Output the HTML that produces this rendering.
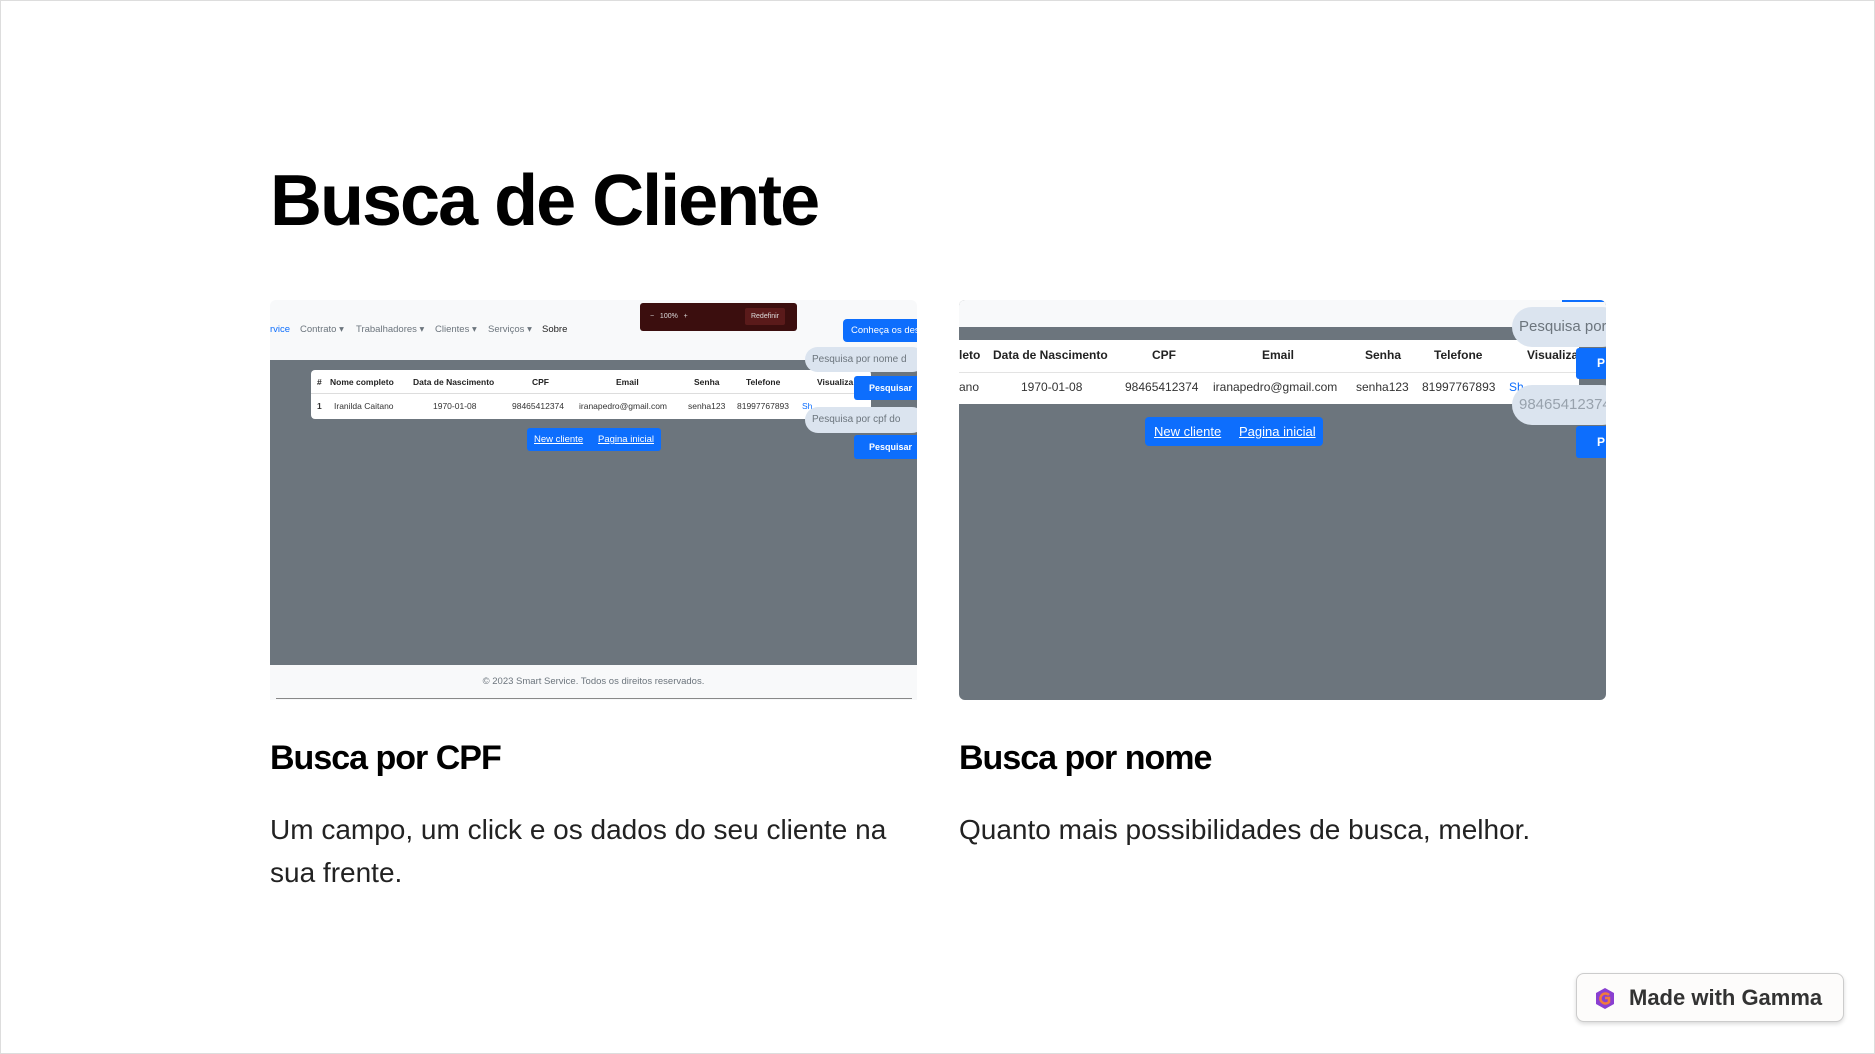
<!DOCTYPE html>
<html><head><meta charset="utf-8"><style>
*{margin:0;padding:0;box-sizing:border-box}
body{width:1875px;height:1054px;background:#fff;position:relative;overflow:hidden;font-family:"Liberation Sans",Arial,sans-serif;color:#000}
.a{position:absolute;white-space:nowrap}
.frame{position:absolute;left:0;top:0;width:1875px;height:1054px;border:1px solid #ddd}
h1{position:absolute;left:270px;top:156px;font-size:72px;font-weight:bold;letter-spacing:-2px;line-height:90px}
.sub{position:absolute;font-size:34px;font-weight:bold;letter-spacing:-1px;line-height:40px}
.body{position:absolute;font-size:28px;line-height:43px;color:#222;width:640px}
.shot{position:absolute;overflow:hidden}
.b{font-weight:bold}
.blue{background:#0d6efd;color:#fff}
.pill{background:#dbe4ef;border-radius:14px;color:#6c757d}
</style></head><body>
<div class="frame"></div>
<h1>Busca de Cliente</h1>

<!-- left screenshot -->
<div class="shot" style="left:270px;top:300px;width:647px;height:400px;background:#f8f9fa;border-radius:6px 6px 0 0">
  <div class="a" style="left:0;top:60px;width:647px;height:305px;background:#6c757d"></div>
  <div class="a" style="left:0;top:365px;width:647px;height:35px;background:#f8f9fa"></div>
  <div class="a" style="left:6px;top:398px;width:636px;height:1px;background:#888"></div>
  <div class="a" style="left:0;top:376px;width:647px;text-align:center;font-size:9.5px;color:#6c757d">© 2023 Smart Service. Todos os direitos reservados.</div>
  <div class="a" style="left:0;top:24px;font-size:9.5px;color:#6c757d">
    <span class="a" style="left:0;color:#0d6efd">rvice</span>
    <span class="a" style="left:30px">Contrato ▾</span>
    <span class="a" style="left:86px">Trabalhadores ▾</span>
    <span class="a" style="left:165px">Clientes ▾</span>
    <span class="a" style="left:218px">Serviços ▾</span>
    <span class="a" style="left:272px;color:#222">Sobre</span>
  </div>
  <div class="a" style="left:370px;top:3px;width:157px;height:28px;background:#3b0e0e;border-radius:3px;font-size:7px;color:#ddd">
    <span class="a" style="left:10px;top:10px">−&nbsp;&nbsp;&nbsp;100%&nbsp;&nbsp;&nbsp;+</span>
    <span class="a" style="left:105px;top:5px;width:40px;height:17px;background:#5a1a1a;border-radius:2px;text-align:center;line-height:17px">Redefinir</span>
  </div>
  <div class="a blue" style="left:573px;top:19px;width:80px;height:23px;border-radius:4px;font-size:9.5px;line-height:23px;padding-left:8px">Conheça os des</div>
  <div class="a" style="left:41px;top:70px;width:560px;height:49px;background:#fff;border-radius:4px"></div>
  <div class="a" style="left:41px;top:93px;width:560px;height:1px;background:#ddd"></div>
  <div class="a b" style="left:0;top:77px;font-size:8.5px;color:#222">
    <span class="a" style="left:47px">#</span><span class="a" style="left:60px">Nome completo</span><span class="a" style="left:143px">Data de Nascimento</span><span class="a" style="left:262px">CPF</span><span class="a" style="left:346px">Email</span><span class="a" style="left:424px">Senha</span><span class="a" style="left:476px">Telefone</span><span class="a" style="left:547px">Visualiza</span>
  </div>
  <div class="a" style="left:0;top:101px;font-size:8.5px;color:#333">
    <span class="a b" style="left:47px">1</span><span class="a" style="left:64px">Iranilda Caitano</span><span class="a" style="left:163px">1970-01-08</span><span class="a" style="left:242px">98465412374</span><span class="a" style="left:309px">iranapedro@gmail.com</span><span class="a" style="left:418px">senha123</span><span class="a" style="left:467px">81997767893</span><span class="a" style="left:532px;color:#0d6efd">Sh</span>
  </div>
  <div class="a pill" style="left:535px;top:47px;width:120px;height:25px;font-size:10px;line-height:25px;padding-left:7px">Pesquisa por nome d</div>
  <div class="a blue b" style="left:584px;top:76px;width:70px;height:24px;border-radius:3px 0 0 3px;font-size:9px;line-height:24px;padding-left:15px">Pesquisar</div>
  <div class="a pill" style="left:535px;top:107px;width:120px;height:26px;font-size:10px;line-height:26px;padding-left:7px">Pesquisa por cpf do</div>
  <div class="a blue b" style="left:584px;top:135px;width:70px;height:24px;border-radius:3px 0 0 3px;font-size:9px;line-height:24px;padding-left:15px">Pesquisar</div>
  <div class="a blue" style="left:257px;top:128px;width:134px;height:23px;border-radius:3px;font-size:9.5px;line-height:23px">
    <span class="a" style="left:7px;text-decoration:underline">New cliente</span><span class="a" style="left:71px;text-decoration:underline">Pagina inicial</span>
  </div>
</div>

<!-- right screenshot -->
<div class="shot" style="left:959px;top:300px;width:647px;height:400px;background:#6c757d;border-radius:6px">
  <div class="a" style="left:0;top:0;width:647px;height:27px;background:#f8f9fa"></div>
  <div class="a" style="left:603px;top:0;width:42px;height:2px;background:#0d6efd"></div>
  <div class="a" style="left:0;top:40px;width:620px;height:64px;background:#fff"></div>
  <div class="a" style="left:0;top:72px;width:620px;height:1px;background:#e3e3e3"></div>
  <div class="a b" style="left:0;top:48px;font-size:12px;color:#222">
    <span class="a" style="left:0">leto</span><span class="a" style="left:34px">Data de Nascimento</span><span class="a" style="left:193px">CPF</span><span class="a" style="left:303px">Email</span><span class="a" style="left:406px">Senha</span><span class="a" style="left:475px">Telefone</span><span class="a" style="left:568px">Visualiza</span>
  </div>
  <div class="a" style="left:0;top:80px;font-size:12px;color:#333">
    <span class="a" style="left:0">ano</span><span class="a" style="left:62px">1970-01-08</span><span class="a" style="left:166px">98465412374</span><span class="a" style="left:254px">iranapedro@gmail.com</span><span class="a" style="left:397px">senha123</span><span class="a" style="left:463px">81997767893</span><span class="a" style="left:550px;color:#0d6efd">Sh</span>
  </div>
  <div class="a pill" style="left:553px;top:7px;width:110px;height:40px;border-radius:20px;font-size:15px;line-height:40px;padding-left:7px">Pesquisa por</div>
  <div class="a blue b" style="left:617px;top:48px;width:40px;height:31px;border-radius:3px 0 0 3px;font-size:12px;line-height:31px;padding-left:21px">P</div>
  <div class="a pill" style="left:553px;top:85px;width:110px;height:40px;border-radius:20px;font-size:15px;line-height:40px;padding-left:7px;color:#98a2ad">98465412374</div>
  <div class="a blue b" style="left:617px;top:126px;width:40px;height:32px;border-radius:3px 0 0 3px;font-size:12px;line-height:32px;padding-left:21px">P</div>
  <div class="a blue" style="left:186px;top:117px;width:178px;height:29px;border-radius:4px;font-size:13px;line-height:29px">
    <span class="a" style="left:9px;text-decoration:underline">New cliente</span><span class="a" style="left:94px;text-decoration:underline">Pagina inicial</span>
  </div>
</div>

<div class="sub" style="left:270px;top:738px">Busca por CPF</div>
<div class="body" style="left:270px;top:808px">Um campo, um click e os dados do seu cliente na sua frente.</div>
<div class="sub" style="left:959px;top:738px">Busca por nome</div>
<div class="body" style="left:959px;top:808px;width:700px">Quanto mais possibilidades de busca, melhor.</div>

<div class="a" style="left:1576px;top:973px;width:268px;height:49px;border:1px solid #ccc;border-radius:8px;background:#fdfcfb;box-shadow:0 2px 4px rgba(0,0,0,.15)">
  <svg class="a" style="left:18px;top:14px" width="20" height="21" viewBox="0 0 20 21"><polygon points="10,0 19,5 19,16 10,21 1,16 1,5" fill="#8a3fd1"/><path d="M14 7 A5 5 0 1 0 14 14 L14 10 L10 10" fill="none" stroke="#f07a3c" stroke-width="2.5"/></svg>
  <span class="a" style="left:52px;top:11px;font-size:22px;font-weight:bold;color:#333">Made with Gamma</span>
</div>
</body></html>
